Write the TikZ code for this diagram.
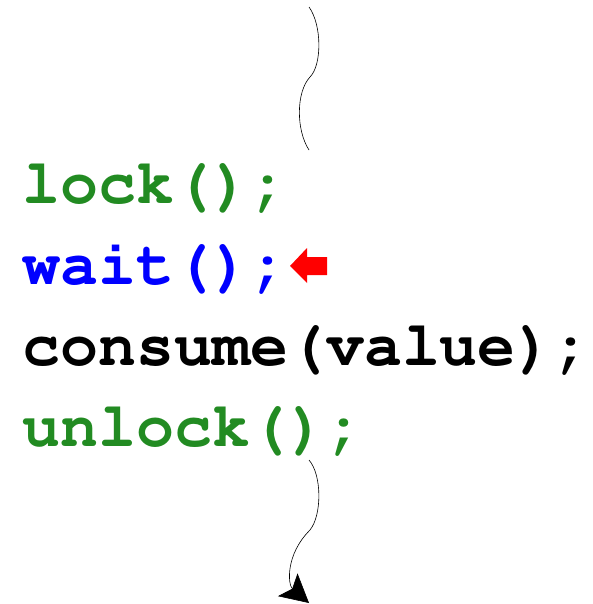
\documentclass[tikz,border=0pt]{standalone}
\usepackage[T1]{fontenc}
\usetikzlibrary{arrows.meta}
\definecolor{lockgreen}{RGB}{34,139,34}
\tikzset{
  code/.style={anchor=base west, inner sep=0pt, font=\fontfamily{pcr}\bfseries\fontsize{63.3}{76}\selectfont},
  flow/.style={line width=0.6pt, black},
}

\begin{document}
\begin{tikzpicture}[x=1pt, y=-1pt]
            \useasboundingbox (0,0) rectangle (593,604);

            % the code lines
            \node[code, lockgreen] (lock) at (22,203) {lock();};
            \node[code, blue] (wait) at (22,284) {wait();};
            \node[code, black] (consume) at (22,365) {consume(value);};
            \node[code, lockgreen] (unlock) at (22,446) {unlock();};

            % marker for the current line
            \fill[red] (290,266) -- (307,248) -- (307,257) -- (327,257)
                -- (327,275) -- (307,275) -- (307,283) -- cycle;

            % incoming and outgoing control flow
            \coordinate (in) at (309,7);
            \coordinate (inend) at (309,150);
            \coordinate (out) at (309,460);
            \coordinate (outend) at (309,603);
            \draw[flow] (in) .. controls (322,25) and (322,65) .. (310,77)
                .. controls (296,92) and (296,130) .. (inend);
            \draw[flow, -{Stealth[length=28pt, width=30pt, inset=6pt]}] (out)
                .. controls (322,475) and (322,515) .. (310,530)
                .. controls (285,555) and (288,585) .. (outend);
\end{tikzpicture}
\end{document}
